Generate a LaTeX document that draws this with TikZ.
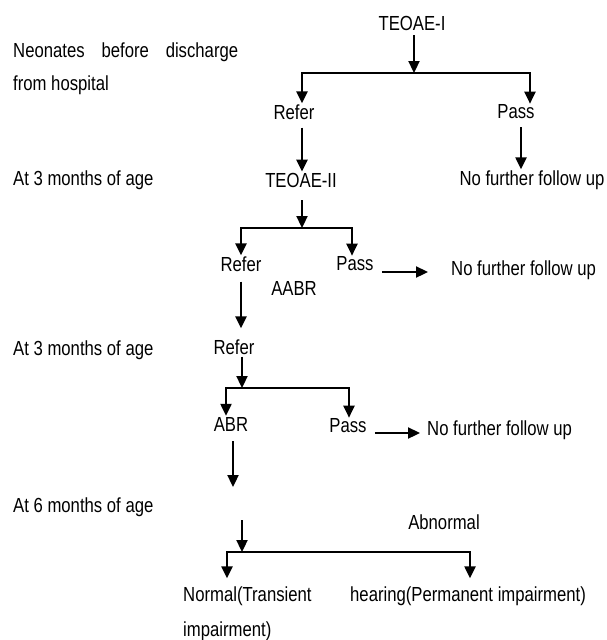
\documentclass[tikz,border=0pt]{standalone}
\usepackage{fontspec}
\setmainfont{Liberation Sans}
\usetikzlibrary{arrows.meta}
\newcommand{\T}[1]{\scalebox{1}[1.22]{#1}}
\begin{document}
\begin{tikzpicture}[x=1pt,y=1pt,
  txt/.style={font=\fontsize{16.7}{19}\selectfont, inner sep=1pt},
  lbl/.style={txt, anchor=west},
  arr/.style={line width=2.3pt, -{Triangle[width=11pt,length=12pt]}}]
\useasboundingbox (0,0) rectangle (607,-640);
% texts
\node[txt] (t1) at (412,-23) {\T{TEOAE-I}};
\node[lbl] (neo) at (12,-52) {\T{\makebox[225pt][s]{Neonates before discharge}}};
\node[lbl] (hosp) at (12,-85) {\T{from hospital}};
\node[txt] (r1) at (294,-112) {\T{Refer}};
\node[txt] (p1) at (516,-112) {\T{Pass}};
\node[txt] (t2) at (301,-180) {\T{TEOAE-II}};
\node[txt] (nf1) at (532,-180) {\T{No further follow up}};
\node[lbl] (age1) at (12,-180) {\T{At 3 months of age}};
\node[txt] (r2) at (241,-264) {\T{Refer}};
\node[txt] (p2) at (355,-264) {\T{Pass}};
\node[lbl] (nf2) at (450,-270) {\T{No further follow up}};
\node[txt] (aabr) at (294,-288) {\T{AABR}};
\node[txt] (r3) at (234,-347) {\T{Refer}};
\node[lbl] (age2) at (12,-350) {\T{At 3 months of age}};
\node[txt] (abr) at (231,-424) {\T{ABR}};
\node[txt] (p3) at (348,-426) {\T{Pass}};
\node[lbl] (nf3) at (426,-430) {\T{No further follow up}};
\node[lbl] (age3) at (12,-507) {\T{At 6 months of age}};
\node[txt] (abn) at (444,-522) {\T{Abnormal}};
\node[lbl] (norm) at (182,-596) {\T{Normal(Transient}};
\node[lbl] (hear) at (349,-596) {\T{hearing(Permanent impairment)}};
\node[lbl] (imp) at (182,-631) {\T{impairment)}};
% junctions and drops
\coordinate (j1) at (414,-73);
\coordinate (d1l) at (302,-73);
\coordinate (d1r) at (530,-73);
\coordinate (a1r) at (521,-73);
\coordinate (j2) at (302,-228);
\coordinate (d2l) at (241,-228);
\coordinate (d2r) at (352,-228);
\coordinate (j3) at (242,-388);
\coordinate (d3l) at (226,-388);
\coordinate (d3r) at (349,-388);
\coordinate (e1) at (233,-487);
\coordinate (s4) at (242,-520);
\coordinate (j4) at (242,-552);
\coordinate (d4l) at (227,-552);
\coordinate (d4r) at (470,-552);
% connectors
\draw[arr, shorten <=4pt] (t1.south -| j1) -- (j1);
\draw[arr] (j1) -| (d1l |- r1.north);
\draw[arr] (j1) -| (d1r |- p1.north);
\draw[arr, shorten <=7pt] (d1l |- r1.south) -- (d1l |- t2.north);
\draw[arr, shorten <=7pt] (a1r |- p1.south) -- (a1r |- nf1.north);
\draw[arr, shorten <=12pt] (t2.south -| j2) -- (j2);
\draw[arr] (j2) -| (d2l |- r2.north);
\draw[arr] (j2) -| (d2r |- p2.north);
\draw[arr, shorten <=7pt, shorten >=22pt] ([yshift=-8pt]p2.east) -- ([yshift=-8pt]p2.east -| nf2.west);
\draw[arr, shorten <=9pt, shorten >=10pt] (d2l |- r2.south) -- (d2l |- r3.north);
\draw[arr, shorten <=1pt] (r3.south -| j3) -- (j3);
\draw[arr] (j3) -| (d3l |- abr.north);
\draw[arr] (j3) -| (d3r |- p3.north);
\draw[arr, shorten <=7pt, shorten >=6pt] ([yshift=-7pt]p3.east) -- ([yshift=-7pt]p3.east -| nf3.west);
\draw[arr, shorten <=9pt] (abr.south -| e1) -- (e1);
\draw[arr] (s4) -- (j4);
\draw[arr, shorten >=7pt] (j4) -| (d4l |- norm.north);
\draw[arr, shorten >=7pt] (j4) -| (d4r |- hear.north);
\end{tikzpicture}
\end{document}
